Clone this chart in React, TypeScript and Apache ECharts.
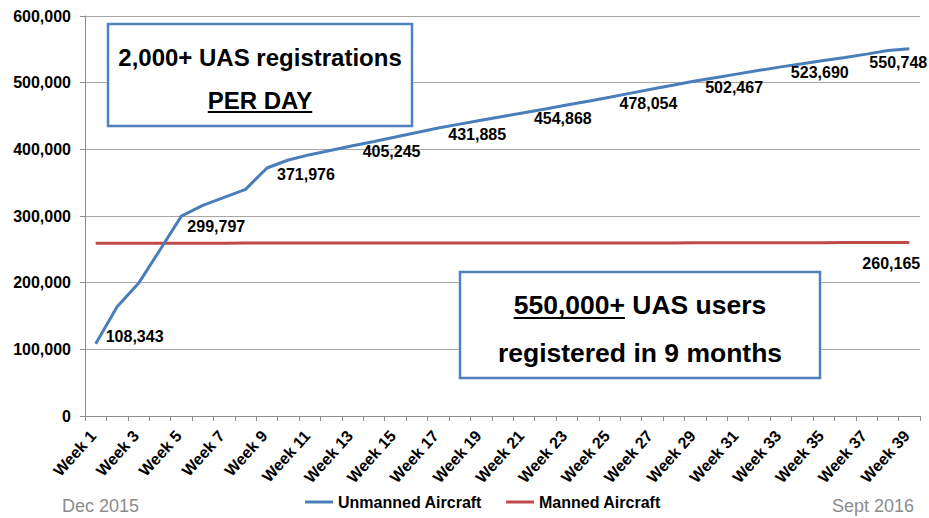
import React, { useEffect, useRef } from "react";
import * as echarts from "echarts";

const weeks: string[] = Array.from({ length: 39 }, (_, i) => `Week ${i + 1}`);

const unmanned: number[] = [
  108343, 164000, 199000, 249000, 299797, 316000, 328000, 340000, 371976, 384000,
  392000, 398500, 405245, 411800, 418500, 425300, 431885, 437800, 443500, 449200,
  454868, 460600, 466400, 472200, 478054, 484300, 490400, 496400, 502467, 507900,
  513200, 518500, 523690, 528400, 533100, 537800, 542800, 548200, 550748,
];

const manned: number[] = [
  259000, 259000, 259000, 259100, 259100, 259200, 259300, 259400, 259500, 259500,
  259500, 259500, 259500, 259500, 259500, 259500, 259500, 259500, 259500, 259500,
  259500, 259500, 259500, 259600, 259600, 259600, 259600, 259600, 259700, 259700,
  259700, 259800, 259900, 260000, 260000, 260100, 260100, 260150, 260165,
];

const unmannedLabelIdx: number[] = [0, 4, 8, 12, 16, 20, 24, 28, 32, 38];
const mannedLabelIdx: number[] = [38];

const yTicks = { min: 0, max: 600000, interval: 100000 };

const FONT = "'Liberation Sans', Arial, Helvetica, sans-serif";
const BLUE = "#4a7ebb";
const RED = "#be4b48";
const BOX = "#4f81bd";

const fmt = (v: number) => v.toLocaleString("en-US");

function measure(text: string, font: string): number {
  const c = document.createElement("canvas");
  const ctx = c.getContext("2d");
  if (!ctx) return text.length * 12;
  ctx.font = font;
  return ctx.measureText(text).width;
}

export default function App() {
  const ref = useRef<HTMLDivElement>(null);

  useEffect(() => {
    if (!ref.current) return;
    const chart = echarts.init(ref.current, null, { renderer: "svg" });

    const labelStyle = {
      fontFamily: FONT,
      fontWeight: "bold" as const,
      fontSize: 16,
      color: "#000",
      formatter: (p: any) => fmt(Number(p.value)),
    };
    const hidden = { symbol: "circle", symbolSize: 0.01 };

    const unmannedData = unmanned.map((v, i) => {
      if (!unmannedLabelIdx.includes(i)) return { value: v, symbol: "none" };
      let label: any = { show: true, position: "right", distance: 10, offset: [0, 6], ...labelStyle };
      if (i === 0) label = { ...label, offset: [0, -7] };
      if (i === 4) label = { ...label, distance: 6, offset: [0, 10] };
      if (i === unmanned.length - 1) label = { show: true, position: "bottom", distance: 6, offset: [-11, 0], ...labelStyle };
      return { value: v, ...hidden, label };
    });
    const mannedData = manned.map((v, i) => {
      if (!mannedLabelIdx.includes(i)) return { value: v, symbol: "none" };
      return { value: v, ...hidden, label: { show: true, position: "bottom", distance: 13, offset: [-18, 0], ...labelStyle } };
    });

    const f2 = `bold 26.5px ${FONT}`;
    const partA = "550,000+";
    const partB = " UAS users";
    const wA = measure(partA, f2);
    const wB = measure(partB, f2);
    const box2cx = 640;
    const startX = box2cx - (wA + wB) / 2;

    const f1 = `bold 24px ${FONT}`;
    const wPer = measure("PER DAY", f1);
    const box1cx = 260;

    chart.setOption({
      animation: false,
      backgroundColor: "#fff",
      grid: { left: 85, right: 9, top: 16, bottom: 102, containLabel: false },
      legend: {
        left: 300,
        bottom: 3,
        itemWidth: 28,
        itemHeight: 3,
        itemGap: 24,
        icon: "rect",
        textStyle: { fontFamily: FONT, fontWeight: "bold", fontSize: 16, color: "#000" },
        data: ["Unmanned Aircraft", "Manned Aircraft"],
      },
      xAxis: {
        type: "category",
        data: weeks,
        boundaryGap: true,
        axisLine: { show: true, lineStyle: { color: "#8c8c8c", width: 1 } },
        axisTick: { show: true, interval: 0, length: 5, lineStyle: { color: "#8c8c8c" } },
        axisLabel: {
          interval: 1,
          rotate: 48,
          margin: 14,
          padding: [0, 4, 0, 0],
          fontFamily: FONT,
          fontWeight: "bold",
          fontSize: 16,
          color: "#000",
        },
        splitLine: { show: false },
      },
      yAxis: {
        type: "value",
        min: yTicks.min,
        max: yTicks.max,
        interval: yTicks.interval,
        axisLine: { show: true, lineStyle: { color: "#8c8c8c", width: 1 } },
        axisTick: { show: true, length: 5, lineStyle: { color: "#8c8c8c" } },
        axisLabel: {
          margin: 14,
          fontFamily: FONT,
          fontWeight: "bold",
          fontSize: 16,
          color: "#000",
          formatter: (v: number) => fmt(v),
        },
        splitLine: { show: true, lineStyle: { color: "#a6a6a6", width: 1 } },
      },
      series: [
        {
          name: "Unmanned Aircraft",
          type: "line",
          data: unmannedData,
          showSymbol: true,
          lineStyle: { color: BLUE, width: 3 },
          itemStyle: { color: BLUE },
          z: 3,
        },
        {
          name: "Manned Aircraft",
          type: "line",
          data: mannedData,
          showSymbol: true,
          lineStyle: { color: RED, width: 3 },
          itemStyle: { color: RED },
          z: 2,
        },
      ],
      graphic: [
        {
          type: "rect",
          shape: { x: 108, y: 24, width: 304, height: 102 },
          style: { fill: "#fff", stroke: BOX, lineWidth: 2.5 },
          z: 100,
        },
        {
          type: "text",
          x: box1cx,
          y: 57,
          style: { text: "2,000+ UAS registrations", font: f1, fill: "#000", align: "center", verticalAlign: "middle" },
          z: 101,
        },
        {
          type: "text",
          x: box1cx,
          y: 100,
          style: { text: "PER DAY", font: f1, fill: "#000", align: "center", verticalAlign: "middle" },
          z: 101,
        },
        {
          type: "line",
          shape: { x1: box1cx - wPer / 2, y1: 112, x2: box1cx + wPer / 2, y2: 112 },
          style: { stroke: "#000", lineWidth: 2 },
          z: 101,
        },
        {
          type: "rect",
          shape: { x: 460, y: 272, width: 360, height: 106 },
          style: { fill: "#fff", stroke: BOX, lineWidth: 2.5 },
          z: 100,
        },
        {
          type: "text",
          x: startX,
          y: 305,
          style: { text: partA, font: f2, fill: "#000", align: "left", verticalAlign: "middle" },
          z: 101,
        },
        {
          type: "text",
          x: startX + wA,
          y: 305,
          style: { text: partB, font: f2, fill: "#000", align: "left", verticalAlign: "middle" },
          z: 101,
        },
        {
          type: "line",
          shape: { x1: startX, y1: 318, x2: startX + wA, y2: 318 },
          style: { stroke: "#000", lineWidth: 2 },
          z: 101,
        },
        {
          type: "text",
          x: box2cx,
          y: 353,
          style: { text: "registered in 9 months", font: f2, fill: "#000", align: "center", verticalAlign: "middle" },
          z: 101,
        },
        {
          type: "text",
          x: 62,
          y: 506,
          style: { text: "Dec 2015", font: `18px ${FONT}`, fill: "#8c8c8c", align: "left", verticalAlign: "middle" },
        },
        {
          type: "text",
          x: 914,
          y: 506,
          style: { text: "Sept 2016", font: `18px ${FONT}`, fill: "#8c8c8c", align: "right", verticalAlign: "middle" },
        },
      ],
    });

    return () => chart.dispose();
  }, []);

  return (
    <div
      ref={ref}
      style={{ position: "fixed", left: 0, top: 0, width: 929, height: 518, background: "#fff" }}
    />
  );
}
